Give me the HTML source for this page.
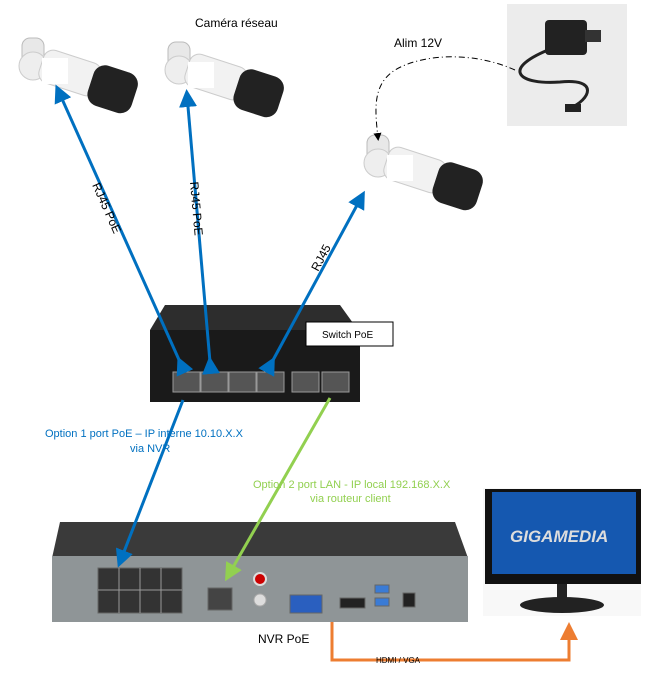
<!DOCTYPE html>
<html><head><meta charset="utf-8"><style>
body{margin:0;background:#fff;width:659px;height:688px;overflow:hidden;font-family:"Liberation Sans",sans-serif}
svg{display:block}
</style></head><body>
<svg width="659" height="688" viewBox="0 0 659 688" xmlns="http://www.w3.org/2000/svg">
<defs>
<marker id="ab" markerWidth="6" markerHeight="6" refX="4" refY="3" orient="auto" markerUnits="strokeWidth"><path d="M0,0L6,3L0,6z" fill="#0070c0"/></marker>
<marker id="ag" markerWidth="6" markerHeight="6" refX="4" refY="3" orient="auto" markerUnits="strokeWidth"><path d="M0,0L6,3L0,6z" fill="#92d050"/></marker>
<marker id="ao" markerWidth="6" markerHeight="6" refX="4" refY="3" orient="auto" markerUnits="strokeWidth"><path d="M0,0L6,3L0,6z" fill="#ed7d31"/></marker>
<marker id="ak" markerWidth="8" markerHeight="8" refX="5" refY="4" orient="auto" markerUnits="userSpaceOnUse"><path d="M0,0L8,4L0,8z" fill="#000"/></marker>
<g id="cam">
<rect x="0" y="0" width="22" height="40" rx="8" fill="#e8e8e8" stroke="#bbb"/>
<circle cx="11" cy="28" r="14" fill="#eee" stroke="#ccc"/>
<rect x="18" y="18" width="60" height="34" rx="10" fill="#f2f2f2" stroke="#ccc" transform="rotate(18 48 35)"/>
<rect x="68" y="30" width="46" height="42" rx="12" fill="#222" transform="rotate(18 90 50)"/>
<rect x="20" y="20" width="26" height="26" fill="#fff"/>
</g>
</defs>

<use href="#cam" x="22" y="38"/>
<use href="#cam" x="168" y="42"/>
<use href="#cam" x="367" y="135"/>
<text x="195" y="27" font-size="12" fill="#000">Caméra réseau</text>
<text x="394" y="47" font-size="12" fill="#000">Alim 12V</text>

<rect x="507" y="4" width="120" height="122" fill="#ececec"/>
<rect x="545" y="20" width="42" height="35" rx="4" fill="#222"/>
<rect x="585" y="30" width="16" height="12" fill="#333"/>
<path d="M548,50 C500,70 520,85 560,82 C600,78 590,100 570,108" stroke="#222" stroke-width="3" fill="none"/>
<rect x="565" y="104" width="16" height="8" fill="#222"/>

<path d="M515,70 C470,50 420,55 395,70 C372,85 375,110 378,138" fill="none" stroke="#000" stroke-width="1" stroke-dasharray="6,3,1,3" marker-end="url(#ak)"/>

<!-- switch -->
<polygon points="165,305 340,305 358,330 150,330" fill="#2d2d2d"/>
<rect x="150" y="330" width="210" height="72" fill="#1a1a1a"/>
<g fill="#555" stroke="#999" stroke-width="1">
<rect x="173" y="372" width="27" height="20"/><rect x="201" y="372" width="27" height="20"/><rect x="229" y="372" width="27" height="20"/><rect x="257" y="372" width="27" height="20"/>
<rect x="292" y="372" width="27" height="20"/><rect x="322" y="372" width="27" height="20"/>
</g>
<rect x="306" y="322" width="87" height="24" fill="#fff" stroke="#000" stroke-width="1"/>
<text x="322" y="338" font-size="10" fill="#000">Switch PoE</text>

<!-- NVR -->
<polygon points="60,522 455,522 468,558 52,558" fill="#3a3a3a"/>
<rect x="52" y="556" width="416" height="66" fill="#8f9597"/>
<g fill="#333" stroke="#666">
<rect x="98" y="568" width="84" height="45"/>
<rect x="208" y="588" width="24" height="22" fill="#444"/>
<rect x="290" y="595" width="32" height="18" fill="#2a5fbf"/>
<rect x="340" y="598" width="25" height="10" fill="#222"/>
<rect x="375" y="585" width="14" height="8" fill="#3a7bd5"/><rect x="375" y="598" width="14" height="8" fill="#3a7bd5"/>
<rect x="403" y="593" width="12" height="14" fill="#222"/>
</g>
<g stroke="#999" stroke-width="1"><line x1="98" y1="590" x2="182" y2="590"/><line x1="119" y1="568" x2="119" y2="613"/><line x1="140" y1="568" x2="140" y2="613"/><line x1="161" y1="568" x2="161" y2="613"/></g>
<circle cx="260" cy="579" r="6" fill="#c00" stroke="#ddd" stroke-width="2"/>
<circle cx="260" cy="600" r="6" fill="#ddd" stroke="#aaa"/>
<text x="258" y="643" font-size="12" fill="#000">NVR PoE</text>

<!-- arrows -->
<line x1="180" y1="362" x2="58" y2="90" stroke="#0070c0" stroke-width="3" marker-start="url(#ab)" marker-end="url(#ab)"/>
<line x1="210" y1="362" x2="187" y2="95" stroke="#0070c0" stroke-width="3" marker-start="url(#ab)" marker-end="url(#ab)"/>
<line x1="272" y1="362" x2="362" y2="196" stroke="#0070c0" stroke-width="3" marker-start="url(#ab)" marker-end="url(#ab)"/>
<line x1="183" y1="400" x2="120" y2="562" stroke="#0070c0" stroke-width="3" marker-end="url(#ab)"/>
<line x1="330" y1="398" x2="228" y2="576" stroke="#92d050" stroke-width="3" marker-end="url(#ag)"/>

<text font-size="12" fill="#000" transform="translate(92,185) rotate(66)">RJ45 PoE</text>
<text font-size="12" fill="#000" transform="translate(190,182) rotate(85)">RJ45 PoE</text>
<text font-size="12" fill="#000" transform="translate(318,272) rotate(-62)">RJ45</text>

<text x="45" y="437" font-size="11" fill="#0070c0">Option 1 port PoE – IP interne 10.10.X.X</text>
<text x="130" y="452" font-size="11" fill="#0070c0">via NVR</text>
<text x="253" y="488" font-size="11" fill="#92d050">Option 2 port LAN - IP local 192.168.X.X</text>
<text x="310" y="502" font-size="11" fill="#92d050">via routeur client</text>

<!-- monitor -->
<rect x="483" y="488" width="158" height="128" fill="#f8f8f8"/>
<rect x="485" y="489" width="156" height="95" fill="#111"/>
<rect x="492" y="492" width="144" height="82" fill="#1558b0"/>
<text x="510" y="542" font-size="17" font-weight="bold" font-style="italic" fill="#ddd">GIGAMEDIA</text>
<rect x="557" y="584" width="10" height="16" fill="#222"/>
<ellipse cx="562" cy="605" rx="42" ry="8" fill="#222"/>

<polyline points="332,622 332,660 569,660 569,628" fill="none" stroke="#ed7d31" stroke-width="3" marker-end="url(#ao)"/>
<text x="376" y="663" font-size="8" fill="#000">HDMI / VGA</text>
</svg>
</body></html>
